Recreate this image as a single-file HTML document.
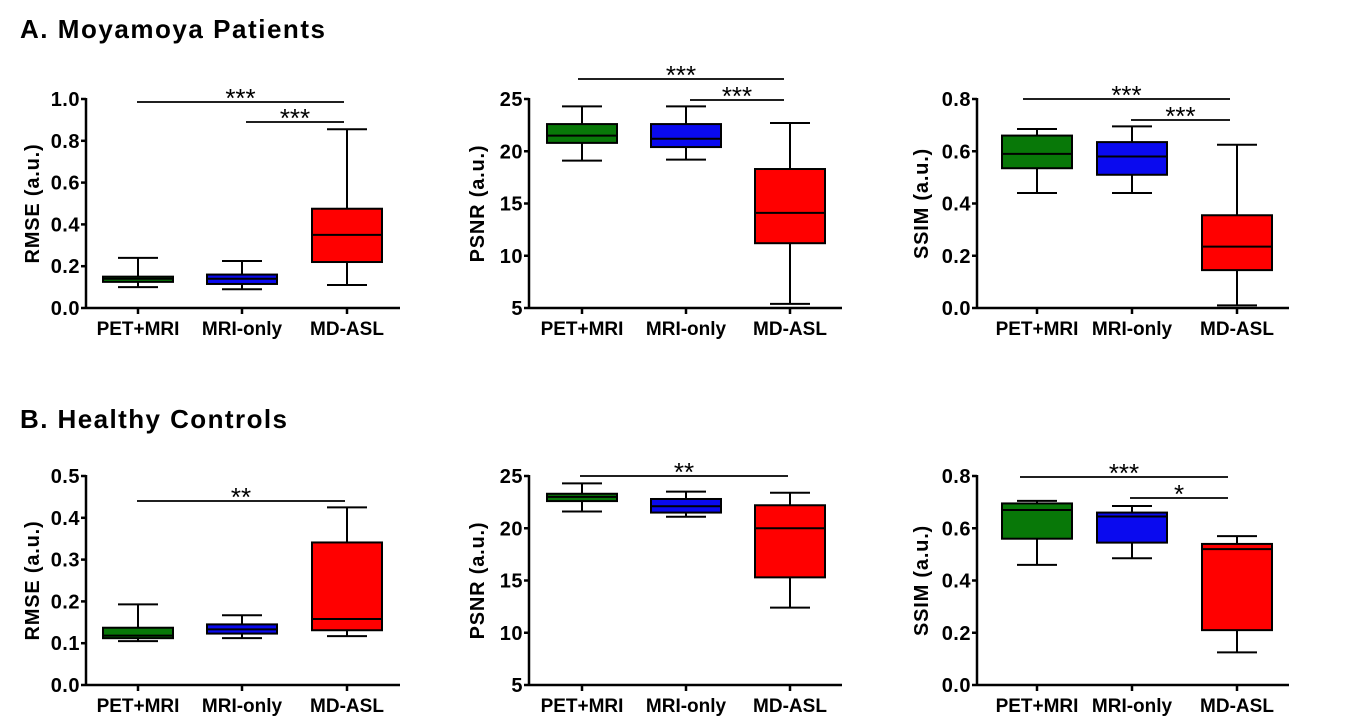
<!DOCTYPE html>
<html><head><meta charset="utf-8"><style>
body{margin:0;background:#fff;}
svg{display:block;font-family:"Liberation Sans",Arial,sans-serif;font-weight:bold;}
</style></head><body>
<svg id="fig" width="1351" height="728" viewBox="0 0 1351 728">
<text x="20" y="38" font-size="26" textLength="305">A. Moyamoya Patients</text>
<text x="20" y="428" font-size="26" textLength="267">B. Healthy Controls</text>
</svg>
<script>
const categories=["PET+MRI","MRI-only","MD-ASL"];
const colors=["#087808","#0a0aef","#ff0000"];
// [min,q1,median,q3,max]
const a1Values=[[0.10,0.125,0.14,0.15,0.24],[0.09,0.115,0.14,0.16,0.225],[0.11,0.22,0.35,0.475,0.855]];
const a2Values=[[19.1,20.8,21.5,22.6,24.3],[19.2,20.4,21.2,22.6,24.3],[5.4,11.2,14.1,18.3,22.7]];
const a3Values=[[0.44,0.535,0.59,0.66,0.685],[0.44,0.51,0.58,0.635,0.695],[0.01,0.145,0.235,0.355,0.625]];
const b1Values=[[0.105,0.112,0.118,0.137,0.193],[0.112,0.123,0.133,0.145,0.167],[0.117,0.131,0.158,0.341,0.425]];
const b2Values=[[21.6,22.6,23.0,23.3,24.3],[21.1,21.5,22.1,22.8,23.5],[12.4,15.3,20.0,22.2,23.4]];
const b3Values=[[0.46,0.56,0.67,0.695,0.705],[0.485,0.545,0.645,0.66,0.685],[0.125,0.21,0.52,0.54,0.57]];
const rmseTicksA=["0.0","0.2","0.4","0.6","0.8","1.0"];
const rmseTicksB=["0.0","0.1","0.2","0.3","0.4","0.5"];
const psnrTicks=["5","10","15","20","25"];
const ssimTicks=["0.0","0.2","0.4","0.6","0.8"];
// sig: [fromIdx,toIdx,label]
const a1Sig=[[0,2,"***"],[1,2,"***"]];
const a2Sig=[[0,2,"***"],[1,2,"***"]];
const a3Sig=[[0,2,"***"],[1,2,"***"]];
const b1Sig=[[0,2,"**"]];
const b2Sig=[[0,2,"**"]];
const b3Sig=[[0,2,"***"],[1,2,"*"]];

const NS="http://www.w3.org/2000/svg";
const svg=document.getElementById("fig");
function mk(tag,attrs,parent,txt){const e=document.createElementNS(NS,tag);for(const k in attrs)e.setAttribute(k,attrs[k]);if(txt!==undefined)e.textContent=txt;(parent||svg).appendChild(e);return e;}

const panels=[
 {id:"a1",ax:86,yTop:99,yBot:308,xEnd:400,cx:[138,242,347],vals:a1Values,ticks:rmseTicksA,title:"RMSE (a.u.)",tx:32,sig:a1Sig,sigY:[102,122],sigX0:[137,246],sigX1:344},
 {id:"a2",ax:529,yTop:99,yBot:308,xEnd:842,cx:[582,686,790],vals:a2Values,ticks:psnrTicks,title:"PSNR (a.u.)",tx:477,sig:a2Sig,sigY:[79,100],sigX0:[578,690],sigX1:784},
 {id:"a3",ax:977,yTop:99,yBot:308,xEnd:1289,cx:[1037,1132,1237],vals:a3Values,ticks:ssimTicks,title:"SSIM (a.u.)",tx:921,sig:a3Sig,sigY:[99,120],sigX0:[1023,1131],sigX1:1230},
 {id:"b1",ax:86,yTop:476,yBot:685,xEnd:400,cx:[138,242,347],vals:b1Values,ticks:rmseTicksB,title:"RMSE (a.u.)",tx:32,sig:b1Sig,sigY:[501],sigX0:[137],sigX1:345},
 {id:"b2",ax:529,yTop:476,yBot:685,xEnd:842,cx:[582,686,790],vals:b2Values,ticks:psnrTicks,title:"PSNR (a.u.)",tx:477,sig:b2Sig,sigY:[476],sigX0:[580],sigX1:788},
 {id:"b3",ax:977,yTop:476,yBot:685,xEnd:1289,cx:[1037,1132,1237],vals:b3Values,ticks:ssimTicks,title:"SSIM (a.u.)",tx:921,sig:b3Sig,sigY:[477,498],sigX0:[1020,1130],sigX1:1228}
];

panels.forEach(p=>{
 const g=mk("g",{});
 
 
 const lo=parseFloat(p.ticks[0]),hi=parseFloat(p.ticks[p.ticks.length-1]);
 const y=v=>p.yBot-(v-lo)/(hi-lo)*(p.yBot-p.yTop);
 const ya=mk("line",{x1:p.ax,y1:p.yTop-1,x2:p.ax,y2:p.yBot+1,stroke:"#000","stroke-width":2.5},g);
 
 
 const xa=mk("line",{x1:p.ax,y1:p.yBot,x2:p.xEnd,y2:p.yBot,stroke:"#000","stroke-width":2.5},g);
 
 
 p.ticks.forEach(t=>{
  const v=parseFloat(t),yy=y(v);
  mk("line",{x1:p.ax-5,y1:yy,x2:p.ax,y2:yy,stroke:"#000","stroke-width":2.5},g);
  const tl=mk("text",{x:p.ax-6,y:yy+7,"font-size":20,"letter-spacing":"0.5","text-anchor":"end"},g,t);
  
  
 });
 const cy=(p.yTop+p.yBot)/2;
 const tt=mk("text",{x:p.tx,y:cy,"font-size":20,"letter-spacing":"0.8","text-anchor":"middle",transform:`rotate(-90 ${p.tx} ${cy})`,dy:7},g,p.title);
 
 
 categories.forEach((c,i)=>{
  const x=p.cx[i];
  mk("line",{x1:x,y1:p.yBot,x2:x,y2:p.yBot+6,stroke:"#000","stroke-width":2.5},g);
  const cl=mk("text",{x:x,y:p.yBot+27,"font-size":19,"text-anchor":"middle"},g,c);
  
  
  const d=p.vals[i];
  const bg=mk("g",{},g);
  
  
  const st={stroke:"#000","stroke-width":2};
  mk("line",Object.assign({x1:x,y1:y(d[0]),x2:x,y2:y(d[4])},st),bg);
  mk("line",Object.assign({x1:x-20,y1:y(d[0]),x2:x+20,y2:y(d[0])},st),bg);
  mk("line",Object.assign({x1:x-20,y1:y(d[4]),x2:x+20,y2:y(d[4])},st),bg);
  mk("rect",Object.assign({x:x-35,y:y(d[3]),width:70,height:y(d[1])-y(d[3]),fill:colors[i]},st),bg);
  mk("line",Object.assign({x1:x-35,y1:y(d[2]),x2:x+35,y2:y(d[2])},st),bg);
 });
 p.sig.forEach((s,k)=>{
  const sy=p.sigY[k],x0=p.sigX0[k],x1=p.sigX1;
  const l=mk("line",{x1:x0,y1:sy,x2:x1,y2:sy,stroke:"#000","stroke-width":1.8},g);
  
  
  const st=mk("text",{x:(x0+x1)/2,y:sy+5,"font-size":26,"font-weight":"normal","text-anchor":"middle"},g,s[2]);
  
  
 });
});
</script>
</body></html>
